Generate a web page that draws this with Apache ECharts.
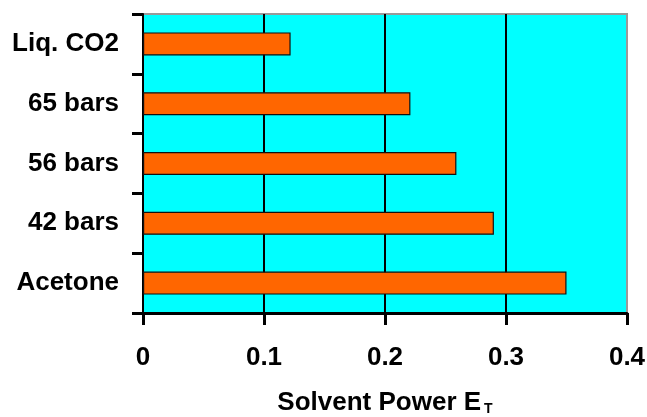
<!DOCTYPE html>
<html><head><meta charset="utf-8">
<script src="https://cdn.jsdelivr.net/npm/echarts@6/dist/echarts.min.js"></script>
<style>html,body{margin:0;padding:0;background:#fff}#c{width:647px;height:417px}</style>
</head><body><div id="c"></div>
<script>
var categories = ['Acetone', '42 bars', '56 bars', '65 bars', 'Liq. CO2'];
var values = [0.35, 0.29, 0.259, 0.221, 0.122];
var xTicks = [0, 0.1, 0.2, 0.3, 0.4];

var chart = echarts.init(document.getElementById('c'));
var font = 'Liberation Sans';
chart.setOption({
  animation: false,
  grid: {left: 143, right: 20, top: 14, bottom: 104, show: true, outerBoundsMode: 'none', containLabel: false,
         backgroundColor: '#00FFFF', borderColor: '#999', borderWidth: 2},
  xAxis: {
    type: 'value', min: 0, max: 0.4, interval: 0.1,
    axisLine: {show: true, onZero: false, lineStyle: {color: '#000', width: 3}},
    axisTick: {show: true, length: 12, lineStyle: {color: '#000', width: 3}},
    axisLabel: {color: '#000', fontFamily: font, fontWeight: 'bold', fontSize: 26, margin: 32,
      formatter: function (v) { var i = xTicks.indexOf(Math.round(v*10)/10); return i >= 0 ? String(xTicks[i]) : ''; }},
    splitLine: {show: true, showMinLine: false, showMaxLine: false, lineStyle: {color: '#000', width: 2}},
    name: '{a|Solvent Power E}{s|T}',
    nameLocation: 'middle', nameGap: 77,
    nameTextStyle: {
      rich: {
        a: {color: '#000', fontFamily: font, fontWeight: 'bold', fontSize: 26, verticalAlign: 'bottom'},
        s: {color: '#000', fontFamily: font, fontWeight: 'bold', fontSize: 14, verticalAlign: 'bottom', padding: [0, 0, 0, 3], lineHeight: 14}
      }
    }
  },
  yAxis: {
    type: 'category', data: categories,
    axisLine: {show: true, lineStyle: {color: '#000', width: 2}},
    axisTick: {show: true, length: 11, lineStyle: {color: '#000', width: 3}},
    axisLabel: {color: '#000', fontFamily: font, fontWeight: 'bold', fontSize: 26, margin: 24},
    splitLine: {show: false}
  },
  series: [{
    type: 'bar', data: values, barWidth: 23,
    itemStyle: {color: '#FF6600', borderColor: '#111', borderWidth: 1.2}
  }]
});
</script></body></html>
